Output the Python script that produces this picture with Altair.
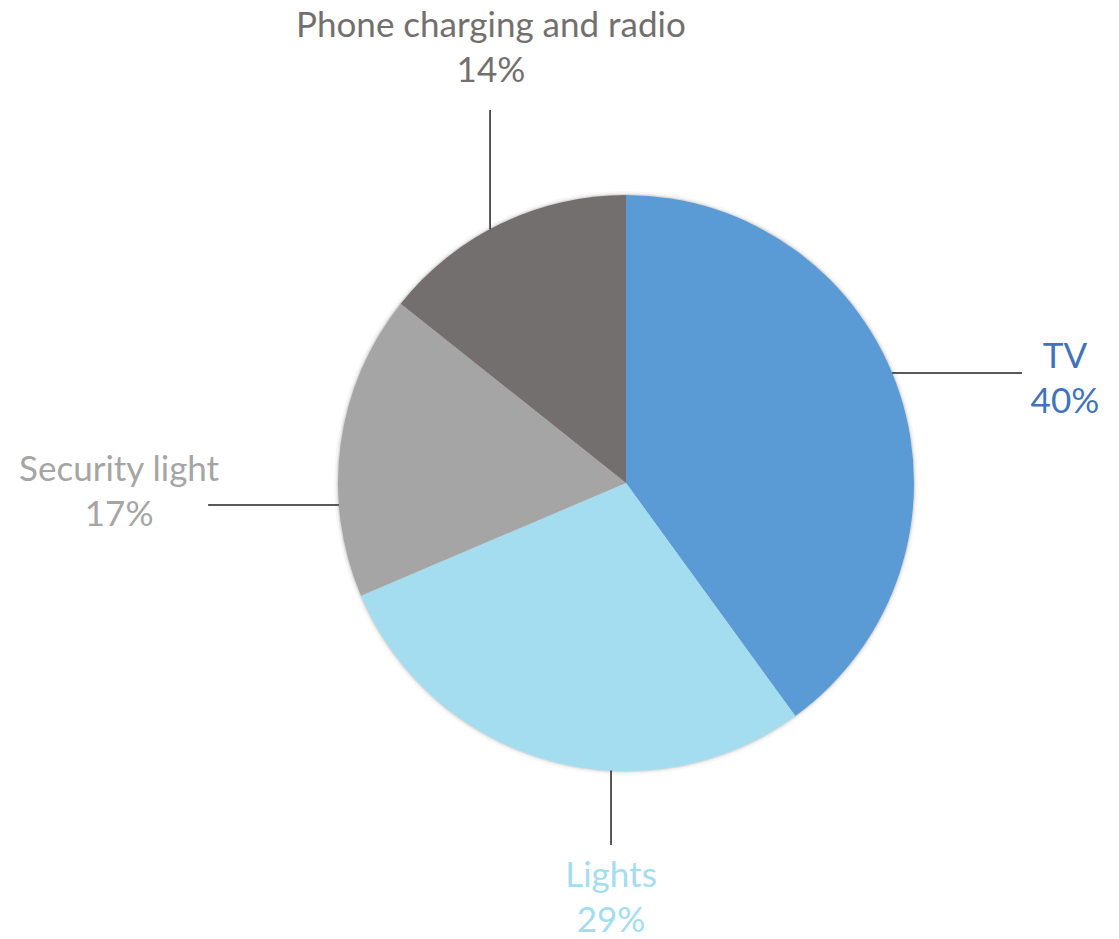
import altair as alt
import pandas as pd

# Slice data
categories = ["TV", "Lights", "Security light", "Phone charging and radio"]
values = [40.0, 28.6, 17.1, 14.3]
slice_colors = ["#5B9BD5", "#A3DDEF", "#A5A5A5", "#736F6E"]
text_colors = ["#4173BA", "#A3DDEF", "#A5A5A5", "#736F6E"]

# Label anchors (in pie-radius units, relative to pie centre, y up)
label_x = [1.524, -0.052, -1.760, -0.469]
label_y = [0.4375, -1.365, 0.045, 1.588]

# Leader lines (pie-radius units)
lead_x1 = [0.924, -0.052, -0.997, -0.472]
lead_y1 = [0.382, -0.9986, -0.0764, 0.881]
lead_x2 = [1.375, -0.052, -1.451, -0.472]
lead_y2 = [0.382, -1.257, -0.0764, 1.295]

W, H = 1119, 939
R = 288
CX, CY = 626, 483

df = pd.DataFrame({
    "cat": categories,
    "val": values,
    "idx": list(range(len(categories))),
    "pct": [f"{round(v)}%" for v in values],
    "lx": label_x, "ly": label_y,
    "x1": lead_x1, "y1": lead_y1, "x2": lead_x2, "y2": lead_y2,
})

xscale = alt.Scale(domain=[-CX / R, (W - CX) / R], range=[0, W], nice=False, zero=False)
yscale = alt.Scale(domain=[-(H - CY) / R, CY / R], range=[H, 0], nice=False, zero=False)

fill_scale = alt.Scale(domain=categories, range=slice_colors)
text_scale = alt.Scale(domain=categories, range=text_colors)

base = alt.Chart(df)

def shadow(radius, opacity):
    return base.mark_arc(outerRadius=radius, color="#000000", opacity=opacity, stroke=None).encode(
        x=alt.X("zero:Q", scale=xscale, axis=None),
        y=alt.Y("zero:Q", scale=yscale, axis=None),
        theta=alt.Theta("val:Q", stack=True),
        order=alt.Order("idx:Q"),
    ).transform_calculate(zero="0")

pie = base.mark_arc(outerRadius=R, stroke=None).encode(
    x=alt.X("zero:Q", scale=xscale, axis=None),
    y=alt.Y("zero:Q", scale=yscale, axis=None),
    theta=alt.Theta("val:Q", stack=True),
    order=alt.Order("idx:Q"),
    color=alt.Color("cat:N", scale=fill_scale, legend=None),
).transform_calculate(zero="0")

leaders = base.mark_rule(color="#222222", strokeWidth=1.5).encode(
    x=alt.X("x1:Q", scale=xscale, axis=None),
    y=alt.Y("y1:Q", scale=yscale, axis=None),
    x2="x2:Q",
    y2="y2:Q",
)

FS = 35
names = base.mark_text(font="Lato", fontSize=FS, align="center", baseline="middle").encode(
    x=alt.X("lx:Q", scale=xscale, axis=None),
    y=alt.Y("ly:Q", scale=yscale, axis=None),
    text="cat:N",
    color=alt.Color("cat:N", scale=text_scale, legend=None),
)

pcts = base.mark_text(font="Lato", fontSize=FS, align="center", baseline="middle", dy=45).encode(
    x=alt.X("lx:Q", scale=xscale, axis=None),
    y=alt.Y("ly:Q", scale=yscale, axis=None),
    text="pct:N",
    color=alt.Color("cat:N", scale=text_scale, legend=None),
)

chart = alt.layer(
    shadow(R + 4, 0.03), shadow(R + 2, 0.05), shadow(R + 1, 0.07),
    pie, leaders, names, pcts
).resolve_scale(color="independent").properties(
    width=W, height=H, autosize=alt.AutoSizeParams(type="none"), padding=0
).configure_view(stroke=None)

chart.save("out.html", embed_options={"renderer": "svg", "actions": False})
